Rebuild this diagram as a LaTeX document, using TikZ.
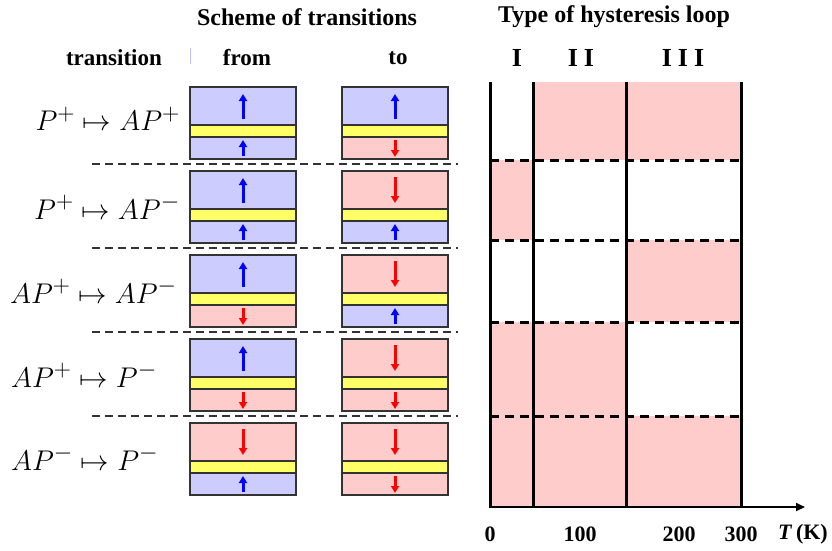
\documentclass[tikz,border=0pt]{standalone}
\usepackage{graphicx}
\usepackage{fontspec}
\setmainfont{Liberation Serif}
\usetikzlibrary{arrows.meta}
\definecolor{pinkc}{RGB}{255,204,204}
\definecolor{bluec}{RGB}{204,204,255}
\definecolor{yelc}{RGB}{255,255,102}
\definecolor{spinb}{RGB}{0,0,255}
\definecolor{spinr}{RGB}{255,0,0}
\tikzset{
  boxline/.style={draw=black!80, line width=1.2pt},
  spinarrow/.style={line width=3pt, -{Triangle[length=7pt,width=8pt]}},
  rowsep/.style={draw=black!80, line width=1.6pt, dash pattern=on 8pt off 5pt},
  chartline/.style={line width=3pt},
  chartdash/.style={line width=3pt, dash pattern=on 9pt off 6pt},
  head/.style={font=\fontsize{24}{26}\selectfont\bfseries},
  subhead/.style={font=\fontsize{23}{25}\selectfont\bfseries},
  roman/.style={font=\fontsize{26}{28}\selectfont\bfseries},
  tick/.style={font=\fontsize{22}{24}\selectfont\bfseries},
  translabel/.style={inner sep=0pt, font=\fontsize{24.88}{27}\selectfont},
}
\newcommand{\translab}[1]{\scalebox{1.145}{$#1$}}
% top layer: fill + arrow
\newcommand{\toplayeru}[2]{\fill[bluec] (#1,#2) rectangle ++(106,38);
  \draw[spinarrow, spinb] (#1+53,#2+32) -- (#1+53,#2+7);}
\newcommand{\toplayerd}[2]{\fill[pinkc] (#1,#2) rectangle ++(106,38);
  \draw[spinarrow, spinr] (#1+53,#2+6) -- (#1+53,#2+32);}
\newcommand{\botlayeru}[2]{\fill[bluec] (#1,#2+50) rectangle ++(106,22);
  \draw[spinarrow, spinb] (#1+53,#2+69) -- (#1+53,#2+53);}
\newcommand{\botlayerd}[2]{\fill[pinkc] (#1,#2+50) rectangle ++(106,22);
  \draw[spinarrow, spinr] (#1+53,#2+53) -- (#1+53,#2+70);}
\newcommand{\stackbox}[4]{%
  \csname toplayer#3\endcsname{#1}{#2}
  \fill[yelc] (#1,#2+38) rectangle ++(106,12);
  \csname botlayer#4\endcsname{#1}{#2}
  \draw[boxline] (#1,#2) rectangle ++(106,72);
  \draw[boxline] (#1,#2+38) -- ++(106,0);
  \draw[boxline] (#1,#2+50) -- ++(106,0);
}
\begin{document}
\begin{tikzpicture}[x=1pt,y=-1pt]
\useasboundingbox (0,0) rectangle (832,550);
% headings
\node[head] (hscheme) at (307,17) {Scheme of transitions};
\node[head] (htype) at (614,17) {Type of hysteresis loop};
\node[subhead] (htrans) at (114,58) {transition};
\node[subhead] (hfrom) at (247,58) {from};
\node[subhead] (hto) at (398,58) {to};
\draw[blue!25, line width=0.8pt] (190,48) -- (190,64);
% roman numerals
\node[roman] (r1) at (517,58) {I};
\node[roman] (r2) at (581,58) {I\hspace{6pt}I};
\node[roman] (r3) at (683,58) {I\hspace{6pt}I\hspace{6pt}I};
% transition labels
\node[translabel, anchor=east] (t1) at (180,119) {\translab{P^+\mapsto AP^+}};
\node[translabel, anchor=east] (t2) at (180,207) {\translab{P^+\mapsto AP^-}};
\node[translabel, anchor=west] (t3) at (10,291) {\translab{AP^+\mapsto AP^-}};
\node[translabel, anchor=west] (t4) at (11,375) {\translab{AP^+\mapsto P^-}};
\node[translabel, anchor=west] (t5) at (11,458) {\translab{AP^-\mapsto P^-}};
% stacks
\stackbox{190}{87}{u}{u}   \stackbox{342}{87}{u}{d}
\stackbox{190}{171}{u}{u}  \stackbox{342}{171}{d}{u}
\stackbox{190}{255}{u}{d}  \stackbox{342}{255}{d}{u}
\stackbox{190}{339}{u}{d}  \stackbox{342}{339}{d}{d}
\stackbox{190}{423}{d}{u}  \stackbox{342}{423}{d}{d}
% row separators
\foreach \yy in {164,248,332,416} \draw[rowsep] (92,\yy) -- (458,\yy);
% chart fills
\fill[pinkc] (533,82) rectangle (741,160);
\fill[pinkc] (490,160) rectangle (533,240);
\fill[pinkc] (626,240) rectangle (741,322);
\fill[pinkc] (490,322) rectangle (626,416);
\fill[pinkc] (490,416) rectangle (741,507);
% chart lines
\foreach \xx in {490,533,626,741} \draw[chartline] (\xx,82) -- (\xx,507);
\foreach \yy in {160,240,322,416} \draw[chartdash] (490,\yy) -- (741,\yy);
\coordinate (axs) at (489,507);
\coordinate (axe) at (805,507);
\draw[line width=2pt, -{Triangle[length=9pt,width=8pt]}] (axs) -- (axe);
% ticks
\node[tick] (k0) at (490,534) {0};
\node[tick] (k1) at (580,534) {100};
\node[tick] (k2) at (679,534) {200};
\node[tick] (k3) at (741,534) {300};
\node[tick] (kt) at (803,534) {\textit{T}\,(K)};
\end{tikzpicture}
\end{document}
